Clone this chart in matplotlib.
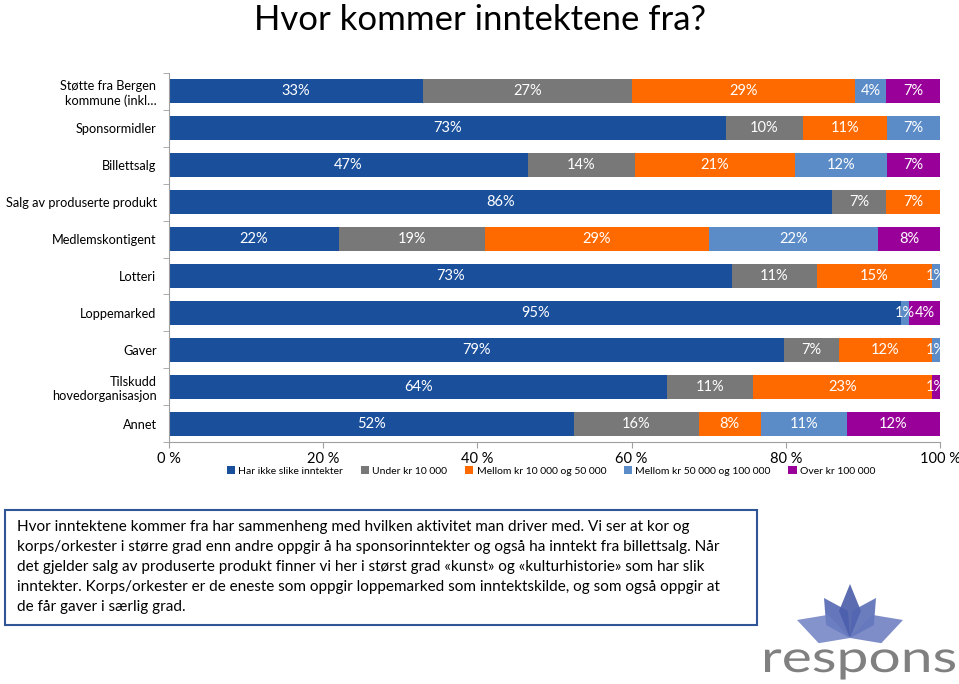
import matplotlib
matplotlib.use("Agg")
import matplotlib.pyplot as plt
import numpy as np
from matplotlib.patches import Rectangle, Polygon, PathPatch
from matplotlib.textpath import TextPath
from matplotlib.font_manager import FontProperties
from matplotlib.transforms import Affine2D
from matplotlib.ticker import FixedLocator

plt.rcParams["font.family"] = ["Lato", "DejaVu Sans"]

categories = [
    "Støtte fra Bergen\nkommune (inkl…",
    "Sponsormidler",
    "Billettsalg",
    "Salg av produserte produkt",
    "Medlemskontigent",
    "Lotteri",
    "Loppemarked",
    "Gaver",
    "Tilskudd\nhovedorganisasjon",
    "Annet",
]
series_names = [
    "Har ikke slike inntekter",
    "Under kr 10 000",
    "Mellom kr 10 000 og 50 000",
    "Mellom kr 50 000 og 100 000",
    "Over kr 100 000",
]
har_ikke = [33, 73, 47, 86, 22, 73, 95, 79, 64, 52]
under_10k = [27, 10, 14, 7, 19, 11, 0, 7, 11, 16]
mellom_10_50k = [29, 11, 21, 7, 29, 15, 0, 12, 23, 8]
mellom_50_100k = [4, 7, 12, 0, 22, 1, 1, 1, 0, 11]
over_100k = [7, 0, 7, 0, 8, 0, 4, 0, 1, 12]
x_ticks = [0, 20, 40, 60, 80, 100]

colors = ["#1A4F9C", "#787878", "#FF6A00", "#5B8CC8", "#990099"]

body_lines = [
    "Hvor inntektene kommer fra har sammenheng med hvilken aktivitet man driver med. Vi ser at kor og",
    "korps/orkester i større grad enn andre oppgir å ha sponsorinntekter og også ha inntekt fra billettsalg. Når",
    "det gjelder salg av produserte produkt finner vi her i størst grad «kunst» og «kulturhistorie» som har slik",
    "inntekter. Korps/orkester er de eneste som oppgir loppemarked som inntektskilde, og som også oppgir at",
    "de får gaver i særlig grad.",
]

W, H = 959, 684
fig = plt.figure(figsize=(W / 100, H / 100), dpi=100)
fig.patch.set_facecolor("white")

fig.text(480 / W, 1 - 20 / H, "Hvor kommer inntektene fra?", ha="center", va="center",
         fontsize=25, color="black")

ax = fig.add_axes([169 / W, 1 - 442 / H, 771 / W, 369 / H])
data = np.array([har_ikke, under_10k, mellom_10_50k, mellom_50_100k, over_100k], dtype=float)
totals = data.sum(axis=0)
y = np.arange(len(categories))
left = np.zeros(len(categories))
for vals, name, col in zip(data, series_names, colors):
    widths = vals / totals * 100
    bars = ax.barh(y, widths, left=left, height=0.65, color=col, label=name)
    labels = [f"{int(v)}%" if v > 0 else "" for v in vals]
    ax.bar_label(bars, labels=labels, label_type="center", color="white", fontsize=10.5)
    left += widths

ax.set_xlim(0, 100)
ax.set_ylim(len(categories) - 0.5, -0.5)
ax.set_yticks(y)
ax.set_yticklabels(categories, fontsize=9.2)
ax.yaxis.set_minor_locator(FixedLocator(np.arange(-0.5, len(categories), 1)))
ax.tick_params(axis="y", which="major", length=0, pad=9)
ax.tick_params(axis="y", which="minor", length=4, color="#A0A0A0")
ax.set_xticks(x_ticks)
ax.set_xticklabels([f"{t} %" for t in x_ticks], fontsize=10.5)
ax.tick_params(axis="x", length=4, color="#A0A0A0", pad=3)
for s in ["top", "right"]:
    ax.spines[s].set_visible(False)
ax.spines["left"].set_color("#A0A0A0")
ax.spines["bottom"].set_color("#A0A0A0")

fig.legend(loc="center", bbox_to_anchor=(551 / W, 1 - 471 / H), ncol=5, frameon=False,
           fontsize=7.5, handlelength=0.8, handleheight=0.8, handletextpad=0.3,
           columnspacing=1.7, borderaxespad=0)

# text box
fig.patches.append(Rectangle((5 / W, 1 - 625 / H), 752 / W, 115 / H, transform=fig.transFigure,
                             facecolor="white", edgecolor="#2F5597", linewidth=1.5))
for i, line in enumerate(body_lines):
    fig.text(17 / W, 1 - (527 + i * 20) / H, line, ha="left", va="center", fontsize=11, color="black")

# logo
lax = fig.add_axes([760 / W, 0, 199 / W, 110 / H])
lax.set_xlim(760, 959)
lax.set_ylim(684, 574)
lax.axis("off")
cx, cy = 850, 638
petals = [
    ((850, 584), 11, "#3F52A3"),
    ((824, 598), 13, "#4B5EAE"),
    ((876, 598), 13, "#5266B3"),
    ((797, 620), 15, "#6E80C4"),
    ((903, 620), 15, "#6779BF"),
]
for (tx, ty), wdt, col in petals:
    ang = np.arctan2(ty - cy, tx - cx)
    px, py = -np.sin(ang), np.cos(ang)
    mx, my = (tx + cx) / 2, (ty + cy) / 2
    lax.add_patch(Polygon([(cx, cy), (mx + px * wdt, my + py * wdt), (tx, ty),
                           (mx - px * wdt, my - py * wdt)], closed=True,
                          facecolor=col, edgecolor="none", alpha=0.85))
tp = TextPath((0, 0), "respons", size=1, prop=FontProperties(family="Lato", weight="normal"))
bb = tp.get_extents()
sx = 190 / bb.width
sy = 44
trans = Affine2D().translate(-bb.x0, 0).scale(sx, -sy).translate(765, 672)
lax.add_patch(PathPatch(trans.transform_path(tp), facecolor="#808080", edgecolor="none"))

fig.savefig("out.png", dpi=100)
